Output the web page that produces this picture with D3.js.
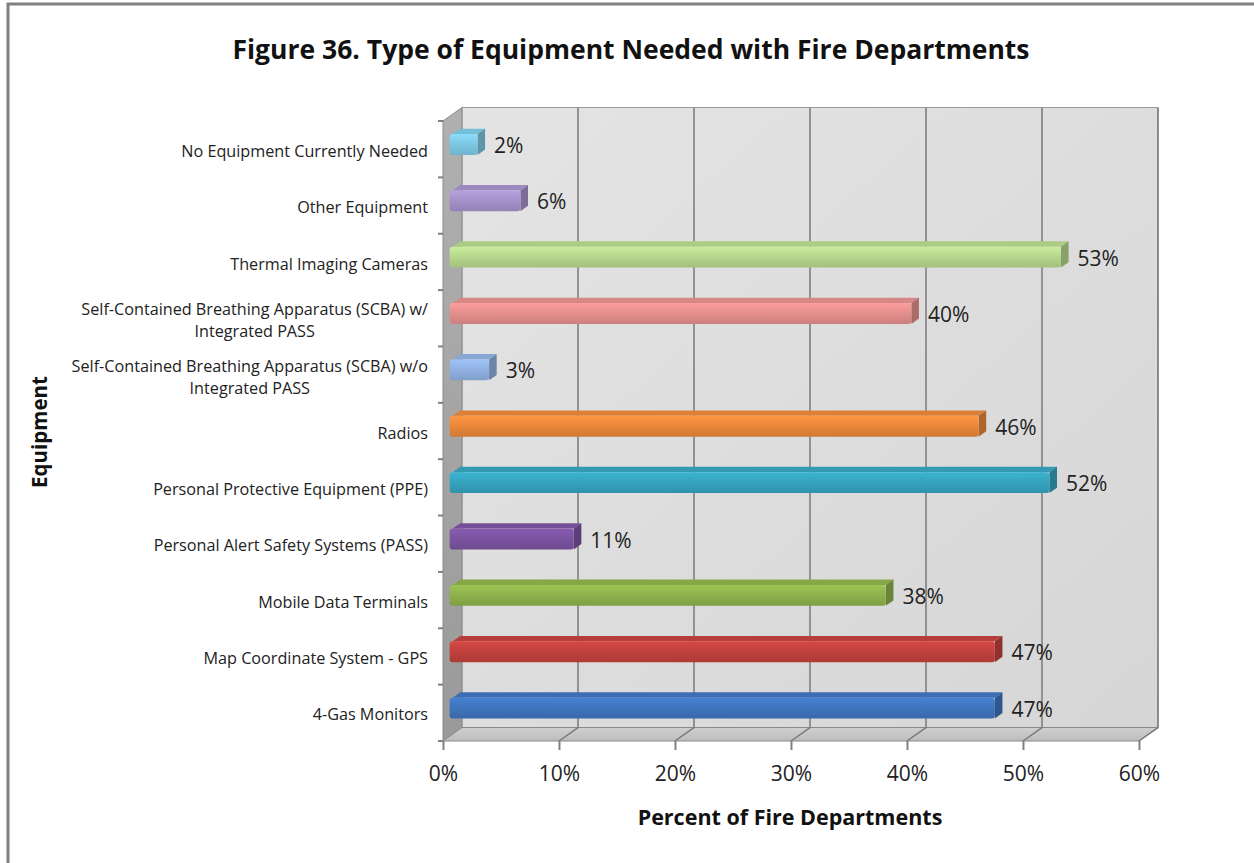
<!DOCTYPE html>
<html>
<head>
<meta charset="utf-8">
<script src="https://cdn.jsdelivr.net/npm/d3@7"></script>
<style>
  html, body { margin: 0; padding: 0; background: #fff; }
  svg { display: block; }
</style>
</head>
<body>
<svg id="chart" width="1254" height="863"></svg>
<script>
// ---- data (bottom to top, as in the chart) ----
const categories = [
  "4-Gas Monitors",
  "Map Coordinate System - GPS",
  "Mobile Data Terminals",
  "Personal Alert Safety Systems (PASS)",
  "Personal Protective Equipment (PPE)",
  "Radios",
  "Self-Contained Breathing Apparatus (SCBA) w/o|Integrated PASS",
  "Self-Contained Breathing Apparatus (SCBA) w/|Integrated PASS",
  "Thermal Imaging Cameras",
  "Other Equipment",
  "No Equipment Currently Needed"
];
const values = [47.0, 47.0, 37.6, 10.7, 51.7, 45.6, 3.4, 39.8, 52.7, 6.1, 2.4];
const valueLabels = ["47%", "47%", "38%", "11%", "52%", "46%", "3%", "40%", "53%", "6%", "2%"];
const barColors = ["#3f74bd", "#c0413d", "#8db04c", "#7a539f", "#35a2bd", "#e8873a",
                   "#8fb0e0", "#e38e8c", "#b5d68c", "#a591c9", "#7cc7e2"];
const tickValues = [0, 10, 20, 30, 40, 50, 60];
const tickLabels = ["0%", "10%", "20%", "30%", "40%", "50%", "60%"];
const titleText = "Figure 36. Type of Equipment Needed with Fire Departments";
const xTitle = "Percent of Fire Departments";
const yTitle = "Equipment";

// ---- layout ----
const svg = d3.select("#chart");
const FONT = "'Open Sans', 'DejaVu Sans', sans-serif";
const DX = 19, DY = -13.5;          // depth vector (front -> back)
const F1 = 0.35, F2 = 0.75;          // bar depth span
const x = d3.scaleLinear().domain([0, 60]).range([443, 1139]);
const y = d3.scaleBand().domain(categories.slice().reverse()).range([121, 741]).padding(0);
const yTop = 121, yBot = 741;

// outer frame
svg.append("rect").attr("x", 8).attr("y", 4).attr("width", 1270).attr("height", 880)
  .attr("fill", "#fff").attr("stroke", "#808080").attr("stroke-width", 3);

const defs = svg.append("defs");
function grad(id, stops, x2, y2) {
  const g = defs.append("linearGradient").attr("id", id)
    .attr("x1", 0).attr("y1", 0).attr("x2", x2).attr("y2", y2);
  stops.forEach(s => g.append("stop").attr("offset", s[0]).attr("stop-color", s[1]));
}
grad("gBack", [[0, "#e4e4e4"], [1, "#d6d6d6"]], 1, 1);
grad("gLeft", [[0, "#b0b0b0"], [1, "#9a9a9a"]], 0, 1);
grad("gFloor", [[0, "#cfcfcf"], [1, "#bdbdbd"]], 0, 1);

const pts = a => a.map(p => p.join(",")).join(" ");
const x0 = x(0), x60 = x(60);

// back wall
svg.append("polygon")
  .attr("points", pts([[x0 + DX, yTop + DY], [x60 + DX, yTop + DY], [x60 + DX, yBot + DY], [x0 + DX, yBot + DY]]))
  .attr("fill", "url(#gBack)").attr("stroke", "#9a9a9a").attr("stroke-width", 1);
// left wall
svg.append("polygon")
  .attr("points", pts([[x0, yTop], [x0 + DX, yTop + DY], [x0 + DX, yBot + DY], [x0, yBot]]))
  .attr("fill", "url(#gLeft)").attr("stroke", "#8a8a8a").attr("stroke-width", 1);
// floor
svg.append("polygon")
  .attr("points", pts([[x0, yBot], [x0 + DX, yBot + DY], [x60 + DX, yBot + DY], [x60, yBot]]))
  .attr("fill", "url(#gFloor)").attr("stroke", "#8a8a8a").attr("stroke-width", 1);

// gridlines on back wall + floor
tickValues.forEach(t => {
  if (t === 0) return;
  svg.append("polyline")
    .attr("points", pts([[x(t) + DX, yTop + DY], [x(t) + DX, yBot + DY], [x(t), yBot]]))
    .attr("fill", "none").attr("stroke", "#7a7a7a").attr("stroke-width", 1.5);
});

// x axis ticks and labels
const xAxis = d3.axisBottom(x).tickValues(tickValues).tickSize(9)
  .tickFormat((d, i) => tickLabels[i]);
const gx = svg.append("g").attr("transform", `translate(0,${yBot})`).call(xAxis);
gx.select(".domain").remove();
gx.selectAll(".tick line").attr("stroke", "#808080").attr("stroke-width", 2);
gx.selectAll(".tick text").attr("y", 25).attr("dy", "0.71em")
  .attr("font-family", FONT).attr("font-size", 21).attr("fill", "#222");

// category boundary ticks on left wall
d3.range(categories.length + 1).forEach(i => {
  const yy = yTop + i * y.bandwidth();
  svg.append("line").attr("x1", x0 - 5).attr("x2", x0).attr("y1", yy).attr("y2", yy)
    .attr("stroke", "#808080").attr("stroke-width", 2);
});

// bars
const bw = y.bandwidth();
const th = bw * 0.37;
categories.forEach((c, i) => {
  const v = values[i];
  const col = d3.color(barColors[i]);
  const yc = y(c) + bw / 2;
  const fx0 = x(0) + DX * F1, fx1 = x(v) + DX * F1;
  const fy0 = yc - th / 2 + DY * F1, fy1 = yc + th / 2 + DY * F1;
  const bdx = DX * (F2 - F1), bdy = DY * (F2 - F1);
  const gid = "gBar" + i;
  grad(gid, [[0, col.brighter(0.3).formatHex()], [0.5, col.formatHex()], [1, col.darker(0.3).formatHex()]], 0, 1);
  // top face
  svg.append("polygon")
    .attr("points", pts([[fx0 + 3, fy0], [fx1, fy0], [fx1 + bdx, fy0 + bdy], [fx0 + bdx + 3, fy0 + bdy]]))
    .attr("fill", col.darker(0.15).formatHex());
  // side face (value end)
  svg.append("polygon")
    .attr("points", pts([[fx1, fy0], [fx1 + bdx, fy0 + bdy], [fx1 + bdx, fy1 + bdy], [fx1, fy1]]))
    .attr("fill", col.darker(0.8).formatHex());
  // front face
  svg.append("rect").attr("x", fx0).attr("y", fy0).attr("width", fx1 - fx0).attr("height", fy1 - fy0)
    .attr("rx", 3).attr("fill", `url(#${gid})`);
  // value label
  svg.append("text").attr("x", fx1 + bdx + 9).attr("y", yc + DY * F1 + 1).attr("dy", "0.36em")
    .attr("font-family", FONT).attr("font-size", 21).attr("fill", "#222")
    .text(valueLabels[i]);
});

// category labels
const labelRight = 428;
const LFS = 16.2;
categories.forEach(c => {
  const lines = c.split("|");
  const yc = y(c) + bw / 2;
  if (lines.length === 1) {
    svg.append("text").attr("x", labelRight).attr("y", yc + 2).attr("dy", "0.35em")
      .attr("text-anchor", "end").attr("font-family", FONT).attr("font-size", LFS).attr("fill", "#222")
      .text(lines[0]);
  } else {
    const t1 = svg.append("text").attr("x", labelRight).attr("y", yc - 8.5).attr("dy", "0.35em")
      .attr("text-anchor", "end").attr("font-family", FONT).attr("font-size", LFS).attr("fill", "#222")
      .text(lines[0]);
    const w = t1.node().getComputedTextLength();
    svg.append("text").attr("x", labelRight - w / 2).attr("y", yc + 13.5).attr("dy", "0.35em")
      .attr("text-anchor", "middle").attr("font-family", FONT).attr("font-size", LFS).attr("fill", "#222")
      .text(lines[1]);
  }
});

// titles
svg.append("text").attr("x", 631).attr("y", 59).attr("text-anchor", "middle")
  .attr("font-family", FONT).attr("font-weight", "bold").attr("font-size", 26.5).attr("fill", "#111")
  .text(titleText);
svg.append("text").attr("x", 790).attr("y", 825).attr("text-anchor", "middle")
  .attr("font-family", FONT).attr("font-weight", "bold").attr("font-size", 21.5).attr("fill", "#111")
  .text(xTitle);
svg.append("text").attr("transform", "translate(47,432) rotate(-90)").attr("text-anchor", "middle")
  .attr("font-family", FONT).attr("font-weight", "bold").attr("font-size", 20.5).attr("fill", "#111")
  .text(yTitle);
</script>
</body>
</html>
